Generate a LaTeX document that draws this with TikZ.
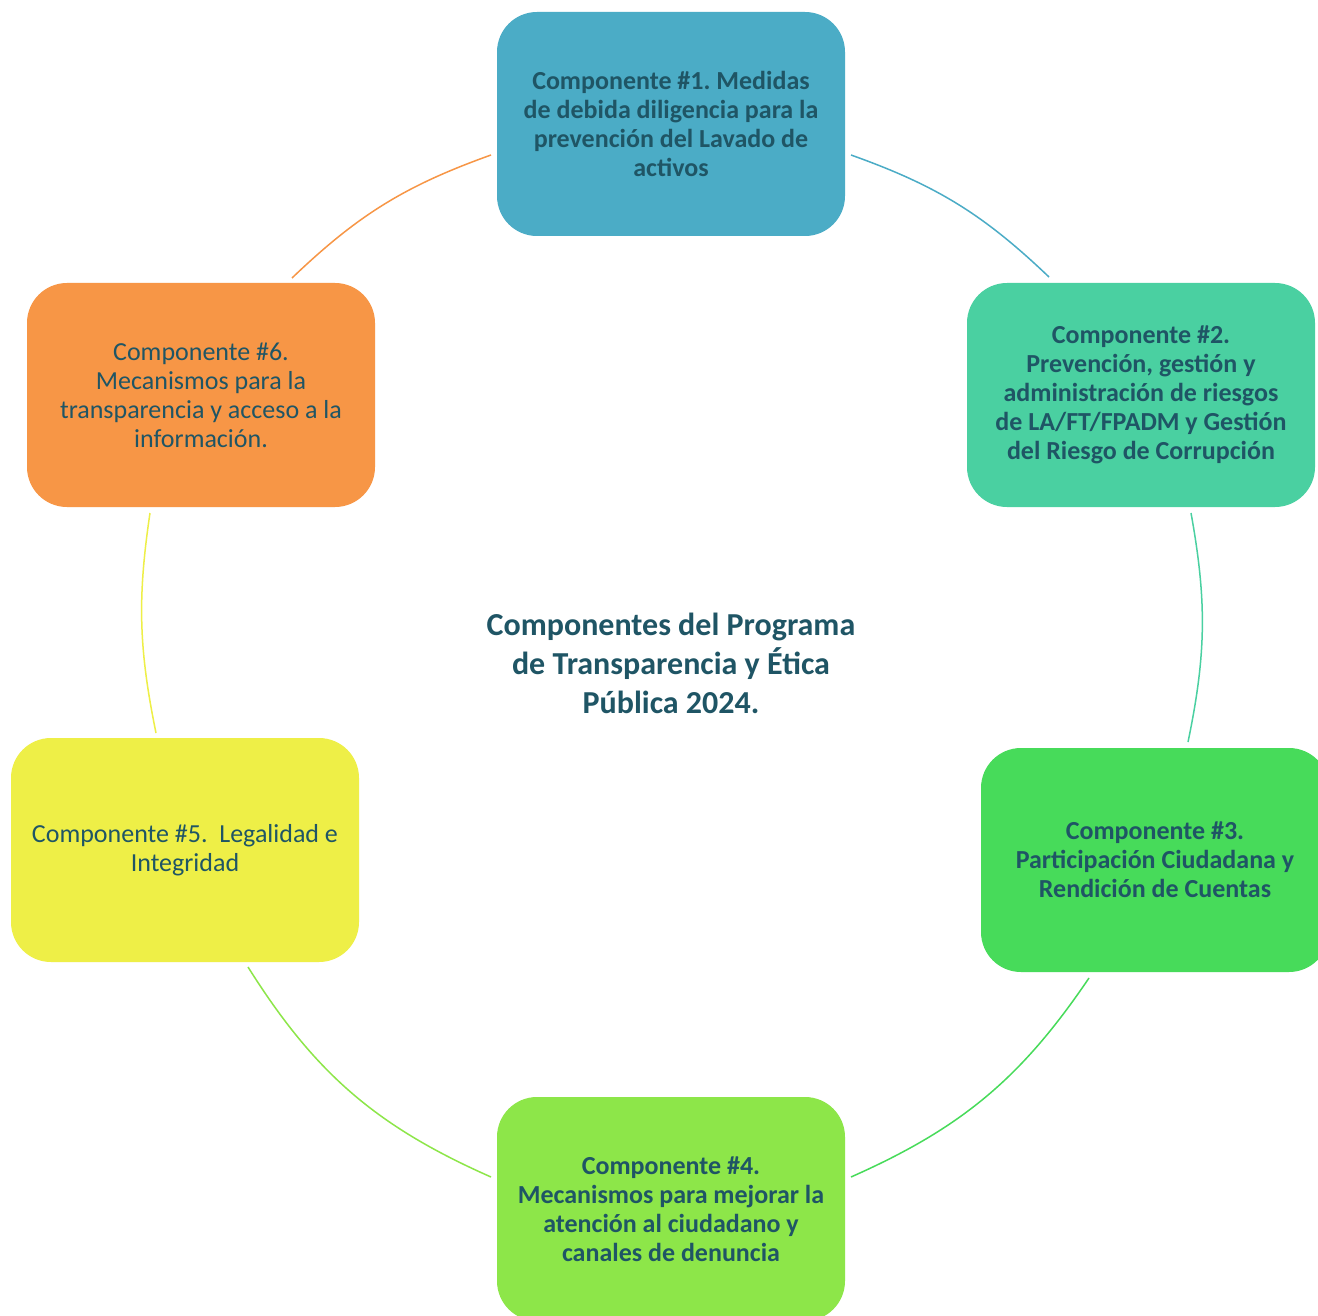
\documentclass[tikz,border=0pt]{standalone}
\usepackage{fontspec}
\setmainfont{Carlito}
\frenchspacing
\definecolor{cA}{HTML}{4BACC6}
\definecolor{cB}{HTML}{4AD0A1}
\definecolor{cC}{HTML}{47DB5A}
\definecolor{cD}{HTML}{8DE649}
\definecolor{cE}{HTML}{EEEF47}
\definecolor{cF}{HTML}{F79646}
\definecolor{txt}{HTML}{1F5565}
\begin{document}
\begin{tikzpicture}[x=1pt,y=-1pt,
  comp/.style={rounded corners=40pt, minimum width=348pt, minimum height=224pt,
    inner sep=0pt, align=center, text=txt, font=\fontsize{26}{29}\selectfont},
  compb/.style={comp, font=\fontsize{26}{29}\selectfont\bfseries},
  link/.style={line width=1.5pt}]
\clip (0,0) rectangle (1318,1316);
\fill[white] (0,0) rectangle (1318,1316);
\node[compb, fill=cA] (c1) at (671,124)
  {Componente \#1. Medidas\\de debida diligencia para la\\prevención del Lavado de\\activos};
\node[compb, fill=cB] (c2) at (1141,395)
  {Componente \#2.\\Prevención, gestión y\\administración de riesgos\\de LA/FT/FPADM y Gestión\\del Riesgo de Corrupción};
\node[compb, fill=cC] (c3) at (1155,860)
  {Componente \#3.\\Participación Ciudadana y\\Rendición de Cuentas};
\node[compb, fill=cD] (c4) at (671,1209)
  {Componente \#4.\\Mecanismos para mejorar la\\atención al ciudadano y\\canales de denuncia};
\node[comp, fill=cE] (c5) at (185,850)
  {Componente \#5.~ Legalidad e\\Integridad};
\node[comp, fill=cF] (c6) at (201,395)
  {Componente \#6.\\Mecanismos para la\\transparencia y acceso a la\\información.};
\node[align=center, text=txt, font=\fontsize{32}{39}\selectfont\bfseries] (t) at (671,663)
  {Componentes del Programa\\de Transparencia y Ética\\Pública 2024.};
% connector end points
\coordinate (a1) at (851,155);  \coordinate (a2) at (1049,277);
\coordinate (b1) at (1191,513); \coordinate (b2) at (1188,742);
\coordinate (d1) at (1089,978); \coordinate (d2) at (851,1177);
\coordinate (e1) at (491,1177); \coordinate (e2) at (248,967);
\coordinate (f1) at (156,733);  \coordinate (f2) at (150,513);
\coordinate (g1) at (292,278);  \coordinate (g2) at (491,155);
\draw[link, cA] (a1) to[bend left=12] (a2);
\draw[link, cB] (b1) to[bend left=11] (b2);
\draw[link, cC] (d1) to[bend left=16] (d2);
\draw[link, cD] (e1) to[bend left=17] (e2);
\draw[link, cE] (f1) to[bend left=10] (f2);
\draw[link, cF] (g1) to[bend left=12] (g2);
\end{tikzpicture}
\end{document}
